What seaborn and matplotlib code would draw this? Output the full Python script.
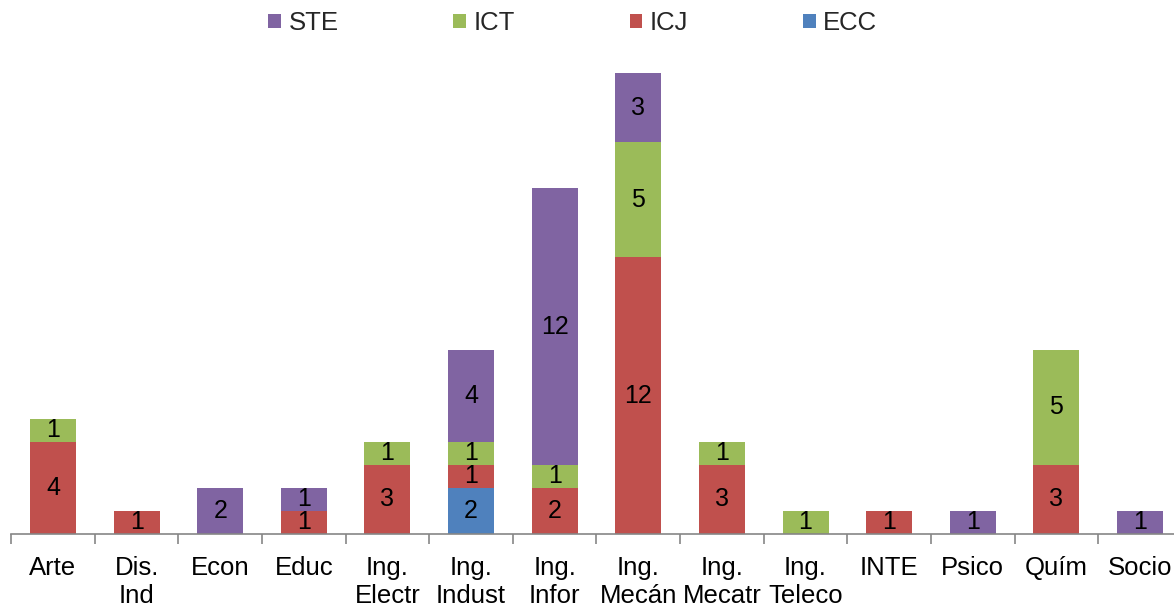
import matplotlib
matplotlib.use("Agg")
import matplotlib.pyplot as plt
from matplotlib.patches import Patch
import numpy as np
import pandas as pd
import seaborn as sns

categories = ["Arte", "Dis.\nInd", "Econ", "Educ", "Ing.\nElectr", "Ing.\nIndust",
              "Ing.\nInfor", "Ing.\nMecán", "Ing.\nMecatr", "Ing.\nTeleco",
              "INTE", "Psico", "Quím", "Socio"]
ecc = [0, 0, 0, 0, 0, 2, 0, 0, 0, 0, 0, 0, 0, 0]
icj = [4, 1, 0, 1, 3, 1, 2, 12, 3, 0, 1, 0, 3, 0]
ict = [1, 0, 0, 0, 1, 1, 1, 5, 1, 1, 0, 0, 5, 0]
ste = [0, 0, 2, 1, 0, 4, 12, 3, 0, 0, 0, 1, 0, 1]

series = [("ECC", ecc, "#4F81BD"), ("ICJ", icj, "#C0504D"),
          ("ICT", ict, "#9BBB59"), ("STE", ste, "#8064A2")]

sns.set_theme(style="white")
plt.rcParams["font.family"] = ["Liberation Sans", "DejaVu Sans"]

fig = plt.figure(figsize=(11.74, 6.10), dpi=100)
ax = fig.add_axes([11.2 / 1174, 76 / 610, 1170.6 / 1174, 484 / 610])

# cumulative tops for each layer, drawn from the tallest down so that lower layers sit on top
values = np.array([s[1] for s in series], dtype=float)
cum = np.cumsum(values, axis=0)
for k in range(len(series) - 1, -1, -1):
    df = pd.DataFrame({"cat": categories, "top": cum[k]})
    sns.barplot(data=df, x="cat", y="top", color=series[k][2], saturation=1,
                width=0.55, ax=ax, order=categories, linewidth=0)

# value labels centred in each segment
for k, (name, vals, col) in enumerate(series):
    bottoms = cum[k] - values[k]
    for i, v in enumerate(vals):
        if v > 0:
            ax.text(i, bottoms[i] + v / 2, f"{v}", ha="center", va="center",
                    fontsize=18, color="black")

ax.set_xlim(-0.5, len(categories) - 0.5)
ax.set_ylim(0, 21)
ax.set_xlabel("")
ax.set_ylabel("")
ax.set_yticks([])
for side in ["left", "right", "top"]:
    ax.spines[side].set_visible(False)
ax.spines["bottom"].set_color("#868686")
ax.spines["bottom"].set_linewidth(1.2)

ax.set_xticks(range(len(categories)))
ax.set_xticklabels(categories, fontsize=18.5, linespacing=1.2)
ax.set_xticks(np.arange(-0.5, len(categories), 1.0), minor=True)
ax.tick_params(axis="x", which="major", length=0, pad=16, colors="black")
ax.tick_params(axis="x", which="minor", length=7, width=1.2, color="#868686",
               direction="out", bottom=True)

handles = [Patch(facecolor=c, edgecolor="none", label=n) for n, _, c in reversed(series)]
fig.legend(handles=handles, loc="center", bbox_to_anchor=(0.488, 1 - 23 / 610),
           ncol=4, frameon=False, fontsize=18.5, handlelength=0.5, handleheight=0.5,
           handletextpad=0.3, columnspacing=4.45)

fig.savefig("out.png", dpi=100)
